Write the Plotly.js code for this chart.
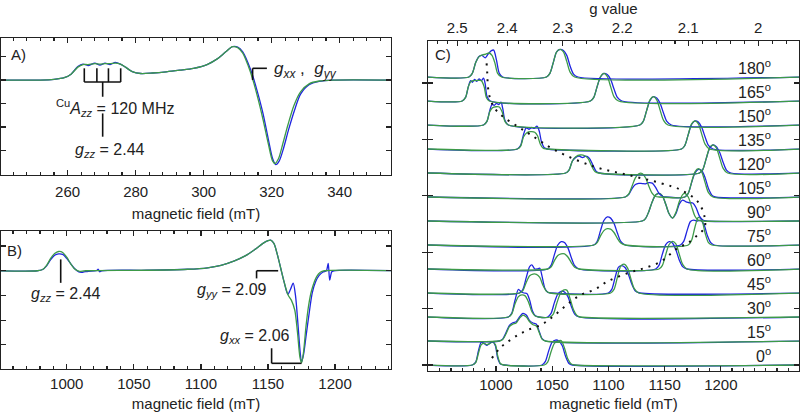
<!DOCTYPE html>
<html><head><meta charset="utf-8">
<script src="https://cdn.plot.ly/plotly-3.0.1.min.js"></script>
<style>html,body{margin:0;padding:0;background:#fff}#chart{width:800px;height:412px}</style>
</head><body><div id="chart"></div>
<script>
// ---------------- DATA ----------------
// Panel A (X-band), [field mT, signal]
const specA_blue = [[240,0],[252,0],[256,0.03],[259,0.1],[261,0.25],[263,0.58],[264.5,0.68],[266,0.62],[268,0.72],[269.5,0.64],[271,0.72],[272.5,0.66],[274,0.75],[275.5,0.68],[277,0.55],[279,0.36],[281.5,0.28],[285,0.3],[289,0.35],[293,0.42],[297,0.5],[301,0.66],[304,0.9],[306.5,1.2],[308.5,1.42],[310,1.4],[311.5,1.2],[313,0.75],[314.5,0.15],[316,-0.6],[317.5,-1.45],[319,-2.5],[320.3,-3.35],[321.2,-3.6],[322.2,-3.45],[323.5,-2.9],[325,-2.1],[326.8,-1.25],[328.5,-0.6],[331,-0.2],[334,-0.06],[338,0],[356,0]];
const specA_green = [[240,0],[252,0],[256,0.03],[259,0.1],[261,0.25],[263,0.55],[264.5,0.66],[266,0.66],[268,0.7],[269.5,0.68],[271,0.7],[272.5,0.7],[274,0.72],[275.5,0.68],[277,0.55],[279,0.36],[281.5,0.28],[285,0.3],[289,0.35],[293,0.42],[297,0.5],[301,0.66],[304,0.9],[306.5,1.2],[308.5,1.42],[310,1.38],[311.5,1.15],[313,0.65],[314.5,0.0],[316,-0.8],[317.5,-1.7],[319,-2.7],[320.3,-3.45],[321,-3.55],[322,-3.35],[323.3,-2.7],[324.8,-1.9],[326.5,-1.1],[328.5,-0.5],[331,-0.16],[334,-0.04],[338,0],[356,0]];

// Panel B (Q-band powder)
const specB_blue = [[950,0],[978,0],[982,0.05],[985,0.2],[988,0.45],[991,0.63],[994,0.68],[997,0.66],[1000,0.5],[1003,0.28],[1006,0.08],[1009,-0.05],[1012,-0.06],[1016,-0.02],[1022,0],[1023.5,0.06],[1024.5,-0.04],[1026,0],[1060,0.02],[1090,0.06],[1105,0.12],[1115,0.22],[1125,0.4],[1133,0.6],[1140,0.85],[1146,1.1],[1150,1.22],[1152,1.24],[1154.5,1.1],[1157,0.65],[1159.5,0.1],[1162,-0.45],[1164.8,-0.95],[1166.8,-0.75],[1168.8,-0.5],[1170.5,-1.0],[1172.5,-2.27],[1174,-3.3],[1175,-3.7],[1176.5,-3.4],[1178.5,-2.6],[1180.5,-1.8],[1183,-0.9],[1185.5,-0.45],[1188,-0.2],[1191,-0.05],[1193.5,0],[1194.9,0.3],[1196,-0.38],[1197.5,-0.05],[1199,0],[1243,0]];
const specB_green = [[950,0],[978,0],[982,0.05],[985,0.22],[988,0.5],[991,0.7],[994,0.78],[997,0.74],[1000,0.55],[1003,0.28],[1006,0.07],[1009,-0.02],[1014,0],[1060,0.02],[1090,0.06],[1105,0.12],[1115,0.22],[1125,0.4],[1133,0.6],[1140,0.85],[1146,1.1],[1150,1.22],[1152,1.24],[1154.5,1.1],[1157,0.65],[1159.5,0.1],[1162,-0.45],[1165,-0.98],[1167.5,-1.2],[1170,-1.6],[1172,-2.5],[1173.8,-3.5],[1175,-3.73],[1176.5,-3.3],[1178.3,-2.27],[1180.3,-1.4],[1182.5,-0.8],[1186.3,-0.24],[1189,-0.06],[1192,0],[1243,0]];
const fieldTicksAB = [1000,1050,1100,1150,1200];

// Panel C (single crystal rotation), angles in degrees
const angles = [0,15,30,45,60,75,90,105,120,135,150,165,180];
const blue0 = [[939,0],[979,0],[982,0.12],[984.5,0.6],[987,0.95],[989.5,0.9],[992,0.82],[994.5,0.9],[997,0.97],[999.5,0.8],[1001.5,0.3],[1004,0.04],[1007,0],[1041,0],[1044,0.15],[1047,0.6],[1050,0.95],[1053,1.04],[1056,1.0],[1059,0.8],[1062,0.35],[1065,0.06],[1068,0],[1271,0]];
const green0 = [[939,0],[979,0],[982,0.1],[984.5,0.5],[987,0.85],[989.5,0.9],[992,0.85],[994.5,0.9],[997,0.95],[999.5,0.85],[1001.5,0.4],[1004,0.06],[1007,0],[1043,0],[1046,0.12],[1049,0.55],[1052,0.9],[1055,1.0],[1058,1.02],[1061,0.7],[1064,0.25],[1067,0.04],[1070,0],[1271,0]];
const blue15 = [[939,0],[1003,0],[1006,0.08],[1009,0.35],[1012,0.65],[1015,0.76],[1018,0.8],[1021,1.0],[1024,1.15],[1027,1.08],[1030,0.85],[1033,0.75],[1036,0.7],[1038.5,0.4],[1041,0.1],[1044,0],[1271,0]];
const green15 = [[939,0],[1003,0],[1006,0.06],[1009,0.3],[1012,0.6],[1015,0.7],[1018,0.75],[1021,0.95],[1024,1.08],[1027,1.0],[1030,0.8],[1033,0.68],[1036,0.62],[1038.5,0.35],[1041,0.08],[1044,0],[1271,0]];
const blue30 = [[939,0],[1011,0],[1014,0.15],[1017,0.7],[1020,1.15],[1022.5,1.05],[1025,1.0],[1027.5,0.98],[1030,0.7],[1032.5,0.25],[1035,0.05],[1038,0],[1046,0],[1049,0.15],[1052,0.6],[1055,0.95],[1058,1.07],[1061,1.04],[1064,0.85],[1067,0.45],[1070,0.12],[1074,0],[1271,0]];
const green30 = [[939,0],[1011,0],[1014,0.12],[1017,0.55],[1020,0.85],[1023,0.92],[1026,0.88],[1029,0.62],[1032,0.22],[1035,0.04],[1038,0],[1048,0],[1051,0.12],[1054,0.55],[1057,0.95],[1060,1.12],[1063,1.12],[1066,0.75],[1069,0.3],[1072,0.06],[1075,0],[1271,0]];
const blue45 = [[939,0],[1021,0],[1024,0.15],[1027,0.65],[1030,1.1],[1032,1.17],[1034.5,1.0],[1037,1.0],[1039,1.03],[1041,0.7],[1043.5,0.2],[1046,0.03],[1049,0],[1100,0],[1103,0.15],[1106,0.65],[1109,1.08],[1112,1.14],[1115,1.05],[1118,0.75],[1121,0.35],[1124,0.08],[1128,0],[1271,0]];
const green45 = [[939,0],[1021,0],[1024,0.1],[1027,0.45],[1030,0.72],[1033,0.79],[1036,0.78],[1039,0.65],[1042,0.3],[1045,0.07],[1048,0],[1102,0],[1105,0.15],[1108,0.65],[1111,1.12],[1114,1.2],[1117,1.05],[1120,0.6],[1123,0.18],[1127,0],[1271,0]];
const blue60 = [[939,0],[1046,0],[1049,0.15],[1052,0.6],[1055,1.0],[1058,1.14],[1061,1.1],[1064,0.88],[1067,0.48],[1070,0.14],[1074,0],[1142,0],[1145,0.15],[1148,0.62],[1151,1.02],[1154,1.14],[1157,1.08],[1160,0.8],[1163,0.38],[1166,0.1],[1170,0],[1271,0]];
const green60 = [[939,0],[1046,0],[1049,0.08],[1052,0.35],[1055,0.56],[1058,0.63],[1061,0.63],[1064,0.5],[1067,0.27],[1070,0.07],[1074,0],[1145,0],[1148,0.15],[1151,0.6],[1154,1.02],[1157,1.15],[1160,1.05],[1163,0.62],[1166,0.2],[1170,0],[1271,0]];
const blue75 = [[939,0],[1087,0],[1090,0.15],[1093,0.6],[1096,1.02],[1099,1.17],[1102,1.12],[1105,0.9],[1108,0.5],[1111,0.15],[1115,0],[1164,0],[1167,0.15],[1170,0.6],[1173,0.98],[1176,1.04],[1179,1.0],[1182,1.03],[1185,0.85],[1188,0.4],[1191,0.1],[1194,0],[1271,0]];
const green75 = [[939,0],[1087,0],[1090,0.1],[1093,0.38],[1096,0.6],[1099,0.68],[1102,0.66],[1105,0.52],[1108,0.28],[1111,0.08],[1115,0],[1171,0],[1174,0.2],[1177,0.75],[1180,1.15],[1183,1.05],[1186,0.5],[1189,0.1],[1192,0],[1271,0]];
const blue90 = [[939,0],[1130,0],[1133,0.1],[1136,0.4],[1139,0.8],[1142,1.08],[1145,1.15],[1148,1.05],[1151,0.7],[1154,0.3],[1157,0.12],[1160,0.3],[1163,0.7],[1166,0.87],[1169,0.8],[1172,0.76],[1175,0.75],[1178,0.55],[1181,0.2],[1184,0.04],[1187,0],[1271,0]];
const green90 = [[939,0],[1130,0],[1133,0.1],[1136,0.4],[1139,0.8],[1142,1.08],[1145,1.15],[1148,1.05],[1151,0.7],[1154,0.3],[1157,0.12],[1160,0.35],[1163,0.8],[1166,1.1],[1168,1.15],[1171,1.0],[1174,0.6],[1177,0.2],[1180,0.03],[1183,0],[1271,0]];
const blue105 = [[939,0],[1115,0],[1118,0.1],[1121,0.35],[1124,0.52],[1127,0.57],[1130,0.56],[1133,0.55],[1136,0.6],[1139,0.58],[1142,0.4],[1145,0.15],[1148,0.03],[1151,0],[1168,0],[1171,0.15],[1174,0.6],[1177,1.0],[1180,1.15],[1183,1.1],[1186,0.8],[1189,0.35],[1192,0.08],[1195,0],[1271,0]];
const green105 = [[939,0],[1115,0],[1118,0.12],[1121,0.45],[1124,0.8],[1127,0.97],[1130,0.98],[1133,0.8],[1136,0.45],[1139,0.15],[1142,0.02],[1145,0],[1168,0],[1171,0.15],[1174,0.62],[1177,1.05],[1180,1.18],[1183,1.05],[1186,0.6],[1189,0.18],[1193,0],[1271,0]];
const blue120 = [[939,0],[1062,0],[1065,0.12],[1068,0.5],[1071,0.65],[1074,0.7],[1077,0.64],[1080,0.7],[1083,0.62],[1086,0.35],[1089,0.08],[1092,0],[1181,0],[1184,0.15],[1187,0.6],[1190,1.02],[1193,1.17],[1196,1.1],[1199,0.85],[1202,0.45],[1205,0.12],[1209,0],[1271,0]];
const green120 = [[939,0],[1062,0],[1065,0.12],[1068,0.5],[1071,0.68],[1075,0.75],[1079,0.72],[1082,0.6],[1085,0.3],[1088,0.06],[1091,0],[1181,0],[1184,0.15],[1187,0.6],[1190,1.05],[1193,1.17],[1196,1.05],[1199,0.62],[1202,0.2],[1206,0],[1271,0]];
const blue135 = [[939,0],[1019,0],[1022,0.15],[1024.5,0.6],[1027,0.88],[1029.5,0.82],[1032,0.9],[1034,0.86],[1036.5,0.95],[1038.5,0.75],[1040.5,0.3],[1043,0.05],[1046,0],[1165,0],[1168,0.15],[1171,0.6],[1174,1.02],[1177,1.17],[1180,1.12],[1183,0.9],[1186,0.5],[1189,0.15],[1193,0],[1271,0]];
const green135 = [[939,0],[1019,0],[1022,0.12],[1024.5,0.5],[1027.5,0.68],[1031,0.72],[1034.5,0.7],[1037,0.55],[1039.5,0.2],[1042,0.03],[1045,0],[1165,0],[1168,0.15],[1171,0.6],[1174,1.05],[1177,1.17],[1180,1.05],[1183,0.62],[1186,0.2],[1190,0],[1271,0]];
const blue150 = [[939,0],[989,0],[992,0.15],[994.5,0.6],[996.5,0.85],[998.5,0.82],[1000.5,0.9],[1002.5,0.85],[1004.5,0.95],[1006,0.7],[1008,0.2],[1011,0],[1128,0],[1131,0.15],[1134,0.6],[1137,1.02],[1140,1.18],[1143,1.12],[1146,0.9],[1149,0.5],[1152,0.15],[1156,0],[1271,0]];
const green150 = [[939,0],[989,0],[992,0.15],[994.5,0.55],[997,0.72],[1000,0.76],[1003,0.75],[1005.5,0.55],[1008,0.15],[1011,0],[1128,0],[1131,0.15],[1134,0.6],[1137,1.05],[1140,1.18],[1143,1.05],[1146,0.62],[1149,0.2],[1153,0],[1271,0]];
const blue165 = [[939,0],[970,0],[973,0.15],[975.5,0.6],[977.5,0.85],[979,0.78],[981,0.9],[983,0.82],[985,0.92],[987,0.85],[989,0.95],[990.5,0.7],[992,0.2],[995,0],[1084,0],[1087,0.15],[1090,0.6],[1093,1.0],[1096,1.15],[1099,1.1],[1102,0.9],[1105,0.5],[1108,0.15],[1112,0],[1271,0]];
const green165 = [[939,0],[970,0],[973,0.15],[975.5,0.6],[978,0.82],[981,0.85],[984,0.86],[987,0.85],[989.5,0.6],[991.5,0.15],[994,0],[1084,0],[1087,0.15],[1090,0.6],[1093,1.02],[1096,1.15],[1099,1.02],[1102,0.6],[1105,0.18],[1109,0],[1271,0]];
const blue180 = [[939,0],[976,0],[979,0.15],[982,0.6],[985,0.85],[987.5,0.9],[990.5,0.8],[993,0.95],[996,1.1],[998,1.12],[1000.5,0.7],[1003,0.15],[1006,0],[1045,0],[1048,0.15],[1051,0.6],[1054,1.05],[1057,1.15],[1060,1.1],[1063,0.9],[1066,0.45],[1069,0.12],[1073,0],[1271,0]];
const green180 = [[939,0],[976,0],[979,0.15],[982,0.6],[985,0.85],[988,0.92],[991,0.95],[994,1.0],[996.5,0.9],[999,0.6],[1001.5,0.15],[1005,0],[1045,0],[1048,0.15],[1051,0.6],[1054,1.05],[1057,1.15],[1060,1.05],[1063,0.65],[1066,0.2],[1070,0],[1271,0]];
const blueC = [blue0,blue15,blue30,blue45,blue60,blue75,blue90,blue105,blue120,blue135,blue150,blue165,blue180];
const greenC = [green0,green15,green30,green45,green60,green75,green90,green105,green120,green135,green150,green165,green180];
// angular dependence guide (field mT, stacked position)
const rotationGuide = [[991.7,12.57],[992.3,12.15],[992.9,11.6],[994.4,11.18],[998.8,10.7],[1006.2,10.35],[1019.6,9.93],[1031.4,9.58],[1052.2,8.96],[1087.7,8.26],[1117.3,7.92],[1147,7.57],[1164.7,7.29],[1179.6,6.8],[1185.5,6.18],[1185.5,5.71],[1179.6,5.43],[1170.7,5.08],[1161.8,4.88],[1147,4.32],[1132.2,4.04],[1117.3,3.83],[1099.6,3.49],[1087.7,3.14],[1075.8,2.93],[1066.9,2.65],[1058,2.31],[1049.2,1.96],[1040.3,1.68],[1028,1.45],[1019.6,1.25],[1010.7,0.97],[1003.3,0.69],[995.8,0.24]];
// top g-value axis: labels and field positions where they sit
const gTickLabels = ['2.5','2.4','2.3','2.2','2.1','2'];
const gTickField = [965.6,1010.1,1059.3,1112.3,1171.0,1233.2];

// ---------------- DRAW ----------------
const BLUE = '#1f24e0', GREEN = '#3c9a48';
const FONT = 'Liberation Sans, Arial, sans-serif';
const px = a => a.map(p => p[0]);
const py = (a, off) => a.map(p => p[1] + (off || 0));
const traces = [];
function add(arr, color, xa, ya, off) {
  traces.push({x: px(arr), y: py(arr, off), xaxis: xa, yaxis: ya, mode: 'lines',
    line: {color: color, width: 1.3, shape: 'spline', smoothing: 0.8}, hoverinfo: 'skip', showlegend: false});
}
add(specA_blue, BLUE, 'x', 'y'); add(specA_green, GREEN, 'x', 'y');
add(specB_blue, BLUE, 'x2', 'y2'); add(specB_green, GREEN, 'x2', 'y2');
angles.forEach((a, i) => { add(blueC[i], BLUE, 'x3', 'y3', i); add(greenC[i], GREEN, 'x3', 'y3', i); });
traces.push({x: px(rotationGuide), y: py(rotationGuide), xaxis: 'x3', yaxis: 'y3', mode: 'lines',
  line: {color: '#111', width: 2, dash: '2px,6px', shape: 'spline'}, hoverinfo: 'skip', showlegend: false});
// invisible carrier so the top g-value axis is drawn
traces.push({x: gTickField, y: gTickField.map(() => 0), xaxis: 'x4', yaxis: 'y3', mode: 'markers',
  marker: {opacity: 0}, hoverinfo: 'skip', showlegend: false});

// minor ticks of g axis: subdivide each labelled interval into 5
const gMinor = [];
for (let i = 0; i < gTickField.length - 1; i++) {
  for (let k = 1; k < 5; k++) gMinor.push(gTickField[i] + (gTickField[i+1] - gTickField[i]) * k / 5);
}
{ const d0 = (gTickField[1]-gTickField[0])/5; for (let k=1;k<=3;k++) gMinor.push(gTickField[0]-d0*k);
  const d1 = (gTickField[5]-gTickField[4])/5; for (let k=1;k<=4;k++) gMinor.push(gTickField[5]+d1*k); }

const ax = {showline: true, linecolor: '#222', linewidth: 1.4, ticks: 'inside', tickcolor: '#222',
  ticklen: 5, tickwidth: 1.2, showgrid: false, zeroline: false, automargin: false,
  tickfont: {family: FONT, size: 15, color: '#222'}};
const axTitle = (t, s) => ({text: t, font: {family: FONT, size: 15, color: '#222'}, standoff: s});
const H = 412, W = 800;
const dX = (a, b) => [a / W, b / W];
const dY = (top, bot) => [1 - bot / H, 1 - top / H];
const minorLin = d => ({dtick: d, tick0: 0, ticks: 'inside', ticklen: 3, tickcolor: '#222'});

const layout = {
  width: W, height: H, margin: {l: 0, r: 0, t: 0, b: 0}, paper_bgcolor: '#fff', plot_bgcolor: '#fff',
  font: {family: FONT, size: 15, color: '#222'}, showlegend: false,
  xaxis: Object.assign({}, ax, {domain: dX(1, 391), anchor: 'y', range: [240.4, 355.1], tick0: 0, dtick: 20,
    mirror: 'allticks', ticklabelstandoff: 3, minor: minorLin(4), title: axTitle('magnetic field (mT)', 9)}),
  yaxis: Object.assign({}, ax, {domain: dY(38, 175), anchor: 'x', range: [-4.04, 1.79], tick0: 0, dtick: 1,
    showticklabels: false, mirror: 'allticks'}),
  xaxis2: Object.assign({}, ax, {domain: dX(1, 391), anchor: 'y2', range: [951, 1241.7], tickmode: 'array', tickvals: fieldTicksAB,
    mirror: 'allticks', ticklabelstandoff: 1, minor: minorLin(10), title: axTitle('magnetic field (mT)', 7)}),
  yaxis2: Object.assign({}, ax, {domain: dY(231, 369), anchor: 'x2', range: [-3.98, 1.61], tick0: 0, dtick: 1,
    showticklabels: false, mirror: 'allticks'}),
  xaxis3: Object.assign({}, ax, {domain: dX(428, 799), anchor: 'y3', range: [939.6, 1269.5], tickmode: 'array', tickvals: fieldTicksAB,
    minor: minorLin(10), title: axTitle('magnetic field (mT)', 6)}),
  xaxis4: Object.assign({}, ax, {overlaying: 'x3', anchor: 'y3', side: 'top', range: [939.6, 1269.5],
    tickmode: 'array', tickvals: gTickField, ticktext: gTickLabels, ticklabelstandoff: 1,
    minor: {tickmode: 'array', tickvals: gMinor, ticks: 'inside', ticklen: 3, tickcolor: '#222'}, title: axTitle('g value', 4)}),
  yaxis3: Object.assign({}, ax, {domain: dY(41, 371), anchor: 'x3', range: [-0.25, 13.5], tick0: 0, dtick: 2.35,
    showticklabels: false, mirror: 'allticks'}),
  shapes: [], annotations: []
};
const L = (xr, yr, x0, y0, x1, y1) => layout.shapes.push({type: 'line', xref: xr, yref: yr, x0, y0, x1, y1, line: {color: '#111', width: 1.6}});
// Panel A brackets
L('x','y',264.9,-0.085,275.6,-0.085);
[264.9,268.6,272.0,275.6].forEach(v => L('x','y',v,-0.085,v,0.5));
L('x','y',270.3,-0.085,270.3,-0.71);
L('x','y',270.3,-1.42,270.3,-2.41);
L('x','y',314.4,0,314.4,0.5); L('x','y',314.4,0.5,318.6,0.5);
// Panel B brackets
L('x2','y2',995.5,0.46,995.5,-0.49);
L('x2','y2',1141.5,0,1141.5,-0.31); L('x2','y2',1141.5,0,1157.6,0);
L('x2','y2',1152.7,-3.14,1152.7,-3.75); L('x2','y2',1152.7,-3.75,1175,-3.75);

const T = (xr, yr, x, y, text, xanchor, size) => layout.annotations.push({xref: xr, yref: yr, x, y, text, showarrow: false,
  xanchor: xanchor || 'center', yanchor: 'middle', font: {family: FONT, size: size || 15, color: '#222'}});
T('x','y',245.4,1.1,'A)');
T('x','y',273.9,-1.19,'<sup>Cu</sup><i>A</i><sub><i>zz</i></sub> = 120 MHz', 'center', 16);
T('x','y',272.4,-3.0,'<i>g</i><sub><i>zz</i></sub> = 2.44', 'center', 16);
T('x','y',320.0,0.43,'<i>g</i><sub><i>xx</i></sub> ,  <i>g</i><sub><i>yy</i></sub>','left', 17);
T('x2','y2',961.4,0.84,'B)');
T('x2','y2',999.2,-0.98,'<i>g</i><sub><i>zz</i></sub> = 2.44', 'center', 16);
T('x2','y2',1123.5,-0.78,'<i>g</i><sub><i>yy</i></sub> = 2.09', 'center', 16);
T('x2','y2',1140.3,-2.67,'<i>g</i><sub><i>xx</i></sub> = 2.06', 'center', 16);
T('x3','y3',953.3,12.92,'C)');
angles.forEach((a, i) => T('x3','y3',1246.2,i + 0.42, a + '<sup>o</sup>', 'right', 16));

Plotly.newPlot('chart', traces, layout, {staticPlot: true});
</script></body></html>
